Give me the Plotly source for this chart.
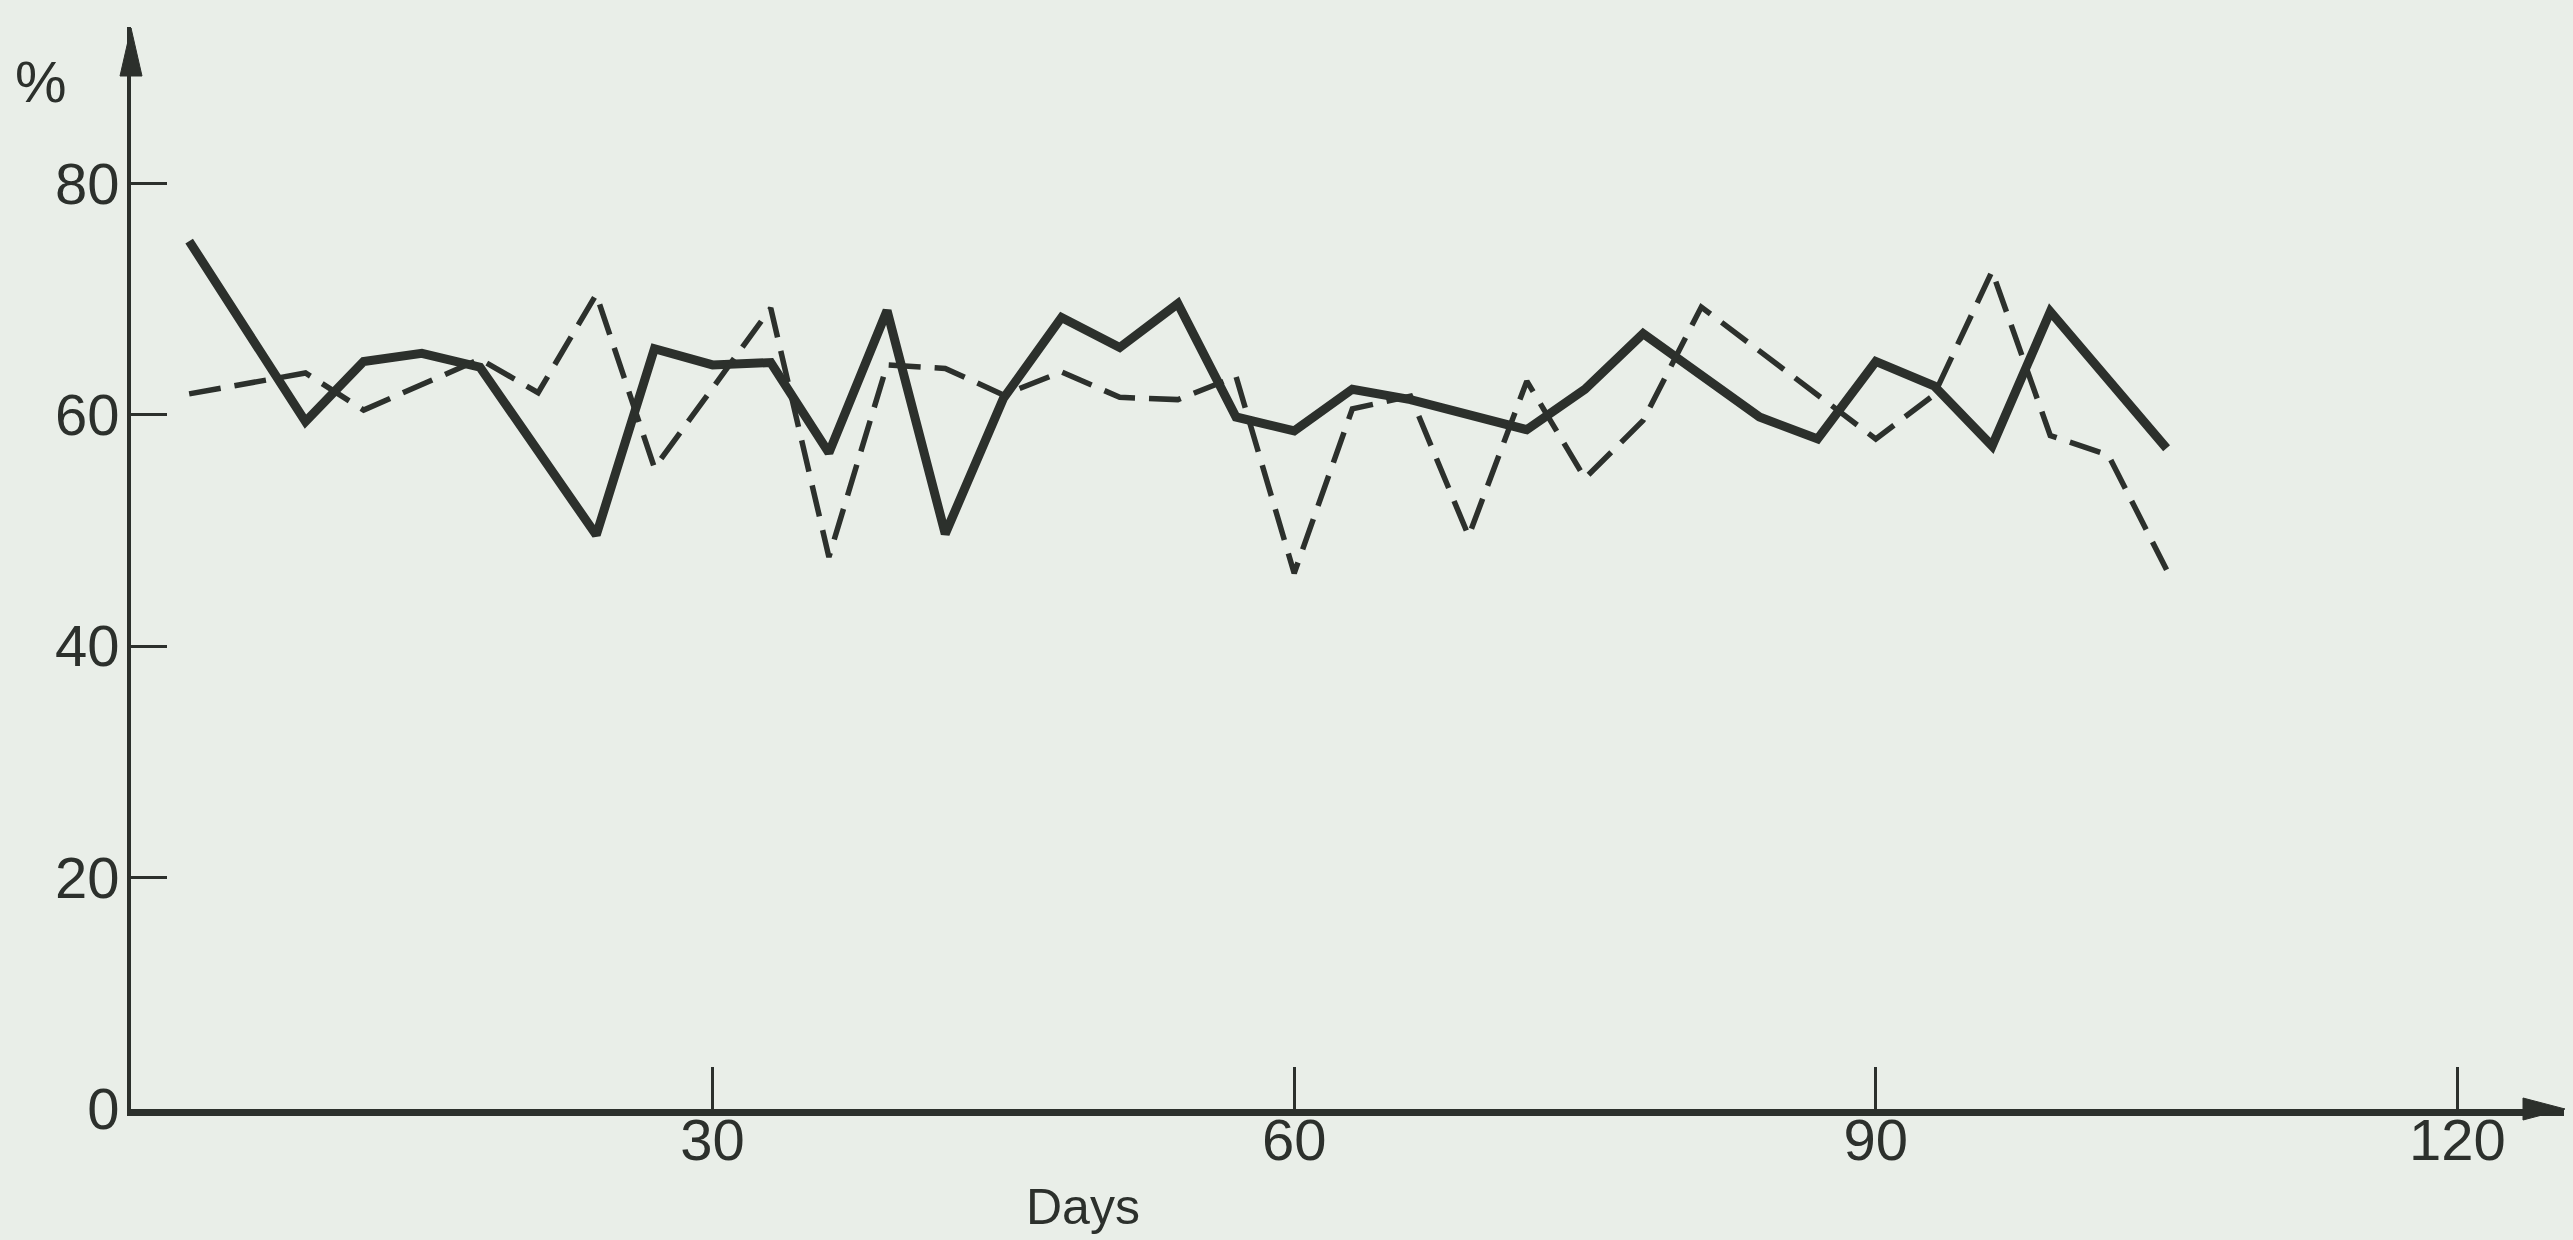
import plotly.graph_objects as go

# ---- data ----
solid_days = [3, 9, 12, 15, 18, 24, 27, 30, 33, 36, 39, 42, 45, 48, 51, 54, 57, 60,
              63, 66, 72, 75, 78, 84, 87, 90, 93, 96, 99, 105]
solid_vals = [75.0, 59.4, 64.6, 65.3, 64.1, 49.6, 65.7, 64.3, 64.5, 56.7, 69.0, 49.7,
              61.4, 68.4, 65.8, 69.6, 59.8, 58.6, 62.2, 61.3, 58.7, 62.2, 67.0, 59.8,
              57.9, 64.6, 62.5, 57.3, 68.9, 57.1]

dashed_days = [3, 9, 12, 18, 21, 24, 27, 33, 36, 39, 42, 45, 48, 51, 54, 57, 60, 63,
               66, 69, 72, 75, 78, 81, 90, 93, 96, 99, 102, 105]
dashed_vals = [61.8, 63.6, 60.4, 64.8, 61.9, 70.4, 55.4, 69.2, 47.7, 64.3, 64.0, 61.7,
               63.7, 61.5, 61.3, 63.3, 46.3, 60.5, 61.6, 49.5, 62.9, 54.5, 59.5, 69.3,
               57.9, 61.7, 72.4, 58.2, 56.5, 46.6]

x_ticks = [30, 60, 90, 120]
x_tick_text = ["30", "60", "90", "120"]
y_ticks = [0, 20, 40, 60, 80]
y_tick_text = ["0", "20", "40", "60", "80"]

# ---- layout geometry ----
W, H = 2573, 1240
ML, MR, MT, MB = 131, 9, 27, 131
XMAX, YMAX = 125.5, 93.5
PW, PH = W - ML - MR, H - MT - MB

INK = "#2c302c"
BG = "#e9eee8"
FONT = "Liberation Sans, Arial, sans-serif"


def px(xp, yp):
    """pixel position -> paper coordinates"""
    return (xp - ML) / PW, (H - MB - yp) / PH


fig = go.Figure()
fig.add_trace(go.Scatter(x=solid_days, y=solid_vals, mode="lines",
                         line=dict(color=INK, width=9), showlegend=False))
fig.add_trace(go.Scatter(x=dashed_days, y=dashed_vals, mode="lines",
                         line=dict(color=INK, width=5.5, dash="32px,14px"),
                         showlegend=False))

# arrow heads (paper coords, not clipped)
tipx, tipy = px(ML, 28)
bl = px(ML - 11, 76)
br = px(ML + 11, 76)
shapes = [dict(type="path", xref="paper", yref="paper",
               path=f"M {tipx} {tipy} L {bl[0]} {bl[1]} L {br[0]} {br[1]} Z",
               fillcolor=INK, line=dict(color=INK, width=1))]
tx, ty = px(W - 8, H - MB)
a1 = px(W - 50, H - MB - 11)
a2 = px(W - 50, H - MB + 11)
shapes.append(dict(type="path", xref="paper", yref="paper",
                   path=f"M {tx} {ty} L {a1[0]} {a1[1]} L {a2[0]} {a2[1]} Z",
                   fillcolor=INK, line=dict(color=INK, width=1)))

pct = px(41, 82)
days = px(1083, 1207)
annotations = [
    dict(text="%", x=pct[0], y=pct[1], xref="paper", yref="paper", showarrow=False,
         font=dict(family=FONT, size=58, color=INK), xanchor="center", yanchor="middle"),
    dict(text="Days", x=days[0], y=days[1], xref="paper", yref="paper", showarrow=False,
         font=dict(family=FONT, size=50, color=INK), xanchor="center", yanchor="middle"),
]

fig.update_layout(
    width=W, height=H,
    margin=dict(l=ML, r=MR, t=MT, b=MB, pad=0),
    paper_bgcolor=BG, plot_bgcolor=BG,
    shapes=shapes, annotations=annotations,
    xaxis=dict(range=[0, XMAX], showgrid=False, zeroline=False,
               showline=True, linecolor=INK, linewidth=7,
               ticks="inside", ticklen=42, tickwidth=3, tickcolor=INK,
               tickvals=x_ticks, ticktext=x_tick_text, ticklabelstandoff=-26,
               tickfont=dict(family=FONT, size=58, color=INK)),
    yaxis=dict(range=[0, YMAX], showgrid=False, zeroline=False,
               showline=True, linecolor=INK, linewidth=4,
               ticks="inside", ticklen=36, tickwidth=3, tickcolor=INK,
               tickvals=y_ticks, ticktext=y_tick_text, ticklabelstandoff=-4,
               tickfont=dict(family=FONT, size=58, color=INK)),
)

fig.write_html("out.html", config={"displayModeBar": False},
               post_script="document.body.style.margin='0';")
